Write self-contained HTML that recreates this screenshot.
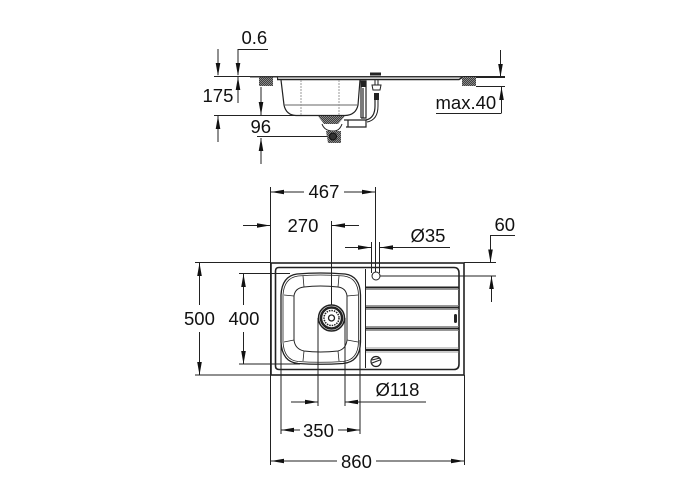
<!DOCTYPE html>
<html><head><meta charset="utf-8"><style>
html,body{margin:0;padding:0;background:#fff;width:700px;height:500px;overflow:hidden}
svg{display:block}
text{font-family:"Liberation Sans",sans-serif;font-size:18.500px;fill:#111}
</style></head><body>
<svg width="700" height="500" viewBox="0 0 700 500" xmlns="http://www.w3.org/2000/svg">
<defs>
<pattern id="h" width="2" height="2" patternUnits="userSpaceOnUse"><rect width="2" height="2" fill="#999"/><path d="M0 2L2 0" stroke="#222" stroke-width=".7"/></pattern>
<path id="a" d="M0 0L-13 -2.300L-13 2.300Z" fill="#111"/>
</defs>
<g fill="none" stroke="#222" stroke-width="1">
<!-- side view dims -->
<path d="M238 75V49.500H268M218 49V75M214 76.500H505M238 103V77M214 115.500H320M218 142V116M261 87V115M257 136.500H328M261 164V138"/>
<path d="M476 77.500H505M476 86.500H505M500.500 50V76M501.500 113V87M436 113.500H501.500"/>
<!-- side view sink -->
<path d="M277 79.500H459L463 77" stroke-width="1.400"/>
<path d="M277 76L278 80" />
<path d="M281 80L284 105Q286 115 296 115.500H345Q356 115 358 105L360 80" stroke-width="1.200"/>
<path d="M284 105H358" stroke="#666"/>
<path d="M301 80V115M339 80V115" stroke="#999" stroke-dasharray="2 1"/>
<path d="M322 124Q324 130 331 131H335Q340 130 342 124"/>
<path d="M344 120H366V127H346M348 120V127M361 118H366V81H361V118M363 88V118" stroke-width="1.200"/>
<path d="M375 100V106Q375 118 366 120" stroke-width="1.200"/>
<path d="M378 100V106Q378 120 367 122"/>
<path d="M372 85H381L380 90H373Z"/>
<path d="M375 79V85M378 79V85"/>
<path d="M370 74H381" stroke-width="3"/>
</g>
<rect x="259" y="77" width="14" height="9" fill="url(#h)"/>
<rect x="462" y="77" width="14" height="9" fill="url(#h)"/>
<path d="M250 76H463V77.500H250Z" fill="#333"/>
<path d="M318 116H345L338 124H324Z" fill="url(#h)"/>
<path d="M326 131H341V143H328Z" fill="url(#h)"/>
<circle cx="333" cy="136.500" r="3.500" fill="#333" stroke="#111"/>
<rect x="374" y="93" width="5" height="7" fill="#222"/>
<rect x="361" y="81" width="5" height="6" fill="#222"/>
<!-- arrows side -->
<use href="#a" transform="translate(238 76) rotate(90)"/>
<use href="#a" transform="translate(218 76) rotate(90)"/>
<use href="#a" transform="translate(238 77) rotate(-90)"/>
<use href="#a" transform="translate(218 116) rotate(-90)"/>
<use href="#a" transform="translate(261 115) rotate(90)"/>
<use href="#a" transform="translate(261 138) rotate(-90)"/>
<use href="#a" transform="translate(500.500 77) rotate(90)"/>
<use href="#a" transform="translate(501.500 87) rotate(-90)"/>
<!-- top view dims -->
<g fill="none" stroke="#222" stroke-width="1">
<path d="M270.500 187V465M464.500 375V465"/>
<path d="M375.500 187V272M271 192H304M344 192H375"/>
<path d="M331.500 221V312M243 225.500H270M332 225.500H359"/>
<path d="M371.500 242V273M379.500 242V273M345 247.500H371M380 247.500H450"/>
<path d="M490.500 262V235.500H515M464 262.500H496M380 276H496M491.500 276V302"/>
<path d="M195 262.500H271M239 273.500H290M239 364H300M195 375H271"/>
<path d="M199.500 263V305M199.500 332V375M243.500 274V305M243.500 332V364"/>
<path d="M281 340V434M360 340V434M318 318V406M345 318V406"/>
<path d="M291 402H318M345 402H426"/>
<path d="M281 430H300M338 430H360"/>
<path d="M271 461H337M376 461H464"/>
<!-- sink -->
<rect x="271" y="263" width="193" height="112" stroke-width="1.600"/>
<path d="M279 267.500H454Q459 267.500 459 273V364Q459 369.500 454 369.500H279Q275.500 369.500 275.500 366V271Q275.500 267.500 279 267.500Z" stroke-width="1.600"/>
<path d="M365.500 269V368" stroke-width="1"/>
<path d="M297 274Q320 272 345 274Q360 276 360.500 295V342Q360 362 343 363.500Q320 365 298 363.500Q282 362 281 342V295Q282 276 297 274Z" stroke-width="1.300"/>
<path d="M298 276Q320 274 344 276Q358 278 358.500 295V342Q358 360 343 361.500Q320 363 298 361.500Q284 360 283 342V295Q284 278 298 276Z" stroke-width=".8"/>
<path d="M304 287Q320 285 338 287Q346 288 347 296V340Q346 349 338 351Q320 353 304 351Q295 349 294 340V296Q295 288 304 287Z" stroke-width="1"/>
<path d="M303 276L304 287M339 276L338 287M284 295L294 296M358 295L347 296M284 342L294 340M358 342L347 340M303 361L304 351M339 361L338 351" stroke-width=".8"/>
<!-- drain -->
<circle cx="331.500" cy="318" r="13" stroke-width="1.500" fill="#fff"/>
<circle cx="331.500" cy="318" r="10.500" stroke-width="2.500"/>
<circle cx="331.500" cy="318" r="7.500" stroke-width="1.500" stroke-dasharray="1.500 1"/>
<circle cx="331.500" cy="318" r="3" stroke-width="1.300"/>
<!-- drainboard -->
<path d="M366 287.500H459M366 307.500H459M366 328.500H459M366 350H459" stroke-width="2"/>
<path d="M366 289.500H459M366 305.500H459M366 309.500H459M366 326.500H459M366 330.500H459M366 348H459M366 352H459" stroke="#777" stroke-width=".7"/>
<circle cx="376" cy="276" r="4"/>
<circle cx="376" cy="361.500" r="5" stroke-width="1.200"/>
<path d="M372 363L380 360M372 360L380 358"/>
</g>
<rect x="454" y="314" width="3" height="9" rx="1.500" fill="#222"/>
<!-- arrows top -->
<use href="#a" transform="translate(271 192) rotate(180)"/>
<use href="#a" transform="translate(375 192)"/>
<use href="#a" transform="translate(270 225.500)"/>
<use href="#a" transform="translate(332 225.500) rotate(180)"/>
<use href="#a" transform="translate(371 247.500)"/>
<use href="#a" transform="translate(380 247.500) rotate(180)"/>
<use href="#a" transform="translate(490.500 262.500) rotate(90)"/>
<use href="#a" transform="translate(491.500 276) rotate(-90)"/>
<use href="#a" transform="translate(199.500 263) rotate(-90)"/>
<use href="#a" transform="translate(199.500 375) rotate(90)"/>
<use href="#a" transform="translate(243.500 274) rotate(-90)"/>
<use href="#a" transform="translate(243.500 364) rotate(90)"/>
<use href="#a" transform="translate(318 402)"/>
<use href="#a" transform="translate(345 402) rotate(180)"/>
<use href="#a" transform="translate(281 430) rotate(180)"/>
<use href="#a" transform="translate(360 430)"/>
<use href="#a" transform="translate(271 461) rotate(180)"/>
<use href="#a" transform="translate(464 461)"/>
<!-- labels -->
<text x="241.500" y="44">0.6</text>
<text x="202.500" y="102">175</text>
<text x="250.500" y="133">96</text>
<text x="435.500" y="109">max.40</text>
<text x="308.500" y="198">467</text>
<text x="287.500" y="232">270</text>
<text x="410.500" y="242">Ø35</text>
<text x="494.500" y="231">60</text>
<text x="184" y="325">500</text>
<text x="228.500" y="325">400</text>
<text x="375.500" y="396">Ø118</text>
<text x="303" y="437">350</text>
<text x="341" y="468">860</text>
</svg>
</body></html>
